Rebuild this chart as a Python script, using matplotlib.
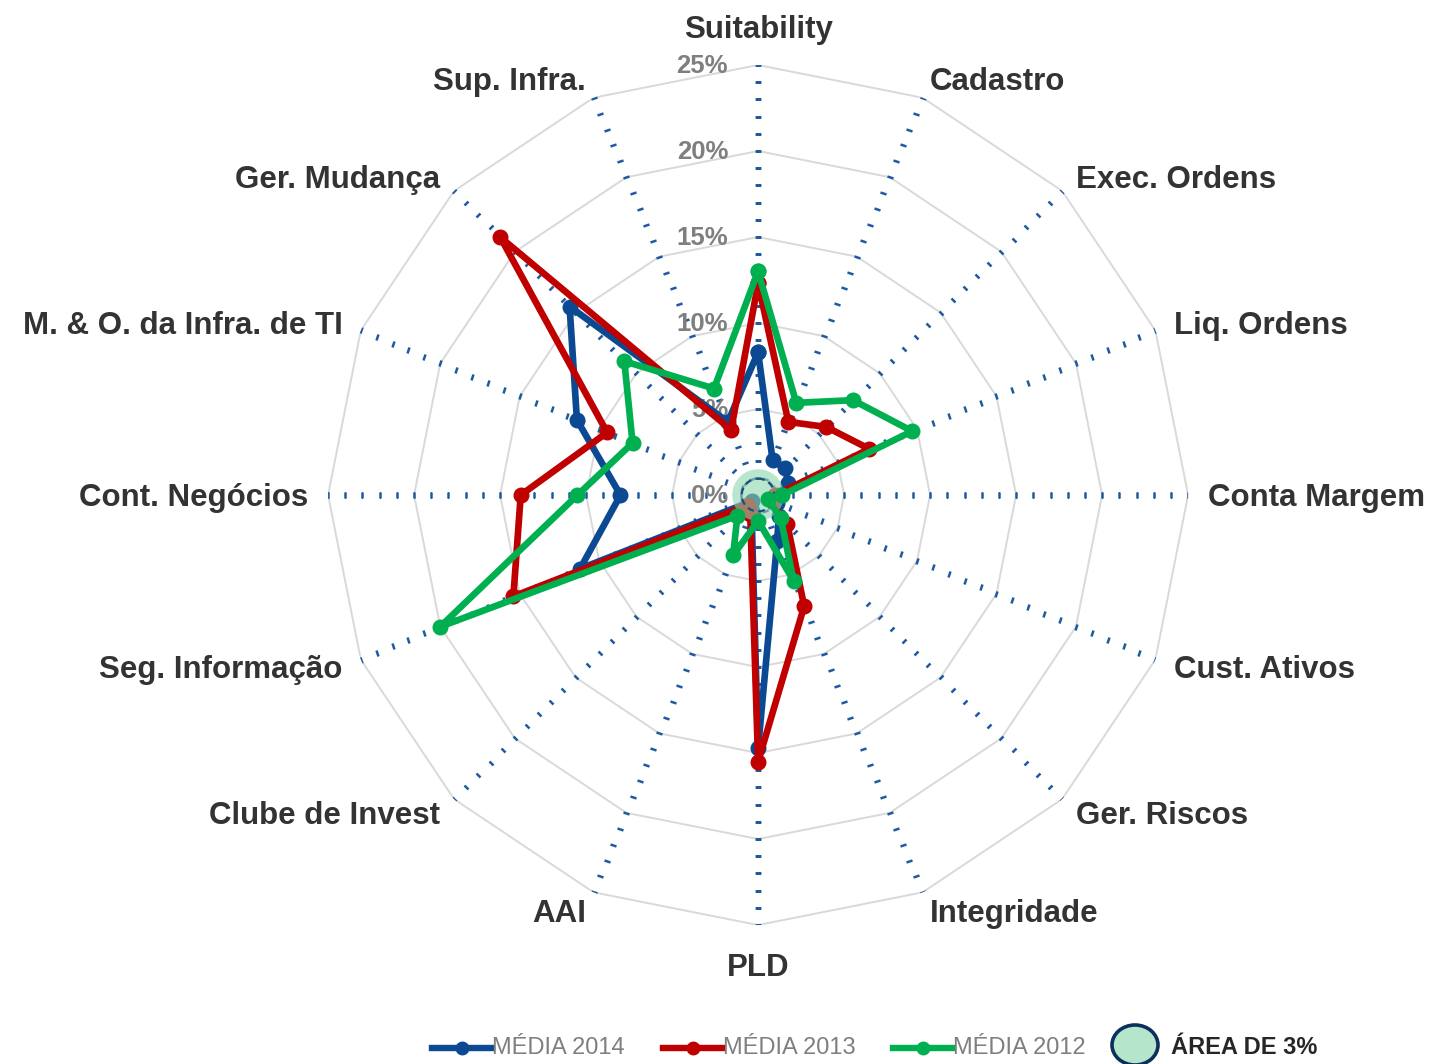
import numpy as np
import matplotlib
matplotlib.use("Agg")
import matplotlib.pyplot as plt
from matplotlib import font_manager
from matplotlib.lines import Line2D
from matplotlib.patches import Ellipse
from matplotlib.markers import MarkerStyle
from matplotlib.transforms import Affine2D, offset_copy

# ── Data ──────────────────────────────────────────────────────
categories = ["Suitability", "Cadastro", "Exec. Ordens", "Liq. Ordens",
              "Conta Margem", "Cust. Ativos", "Ger. Riscos", "Integridade",
              "PLD", "AAI", "Clube de Invest", "Seg. Informação",
              "Cont. Negócios", "M. & O. da Infra. de TI", "Ger. Mudança",
              "Sup. Infra."]

media_2014 = [8.3, 2.2, 2.2, 1.9, 1.2, 1.2, 1.7, 2.9, 14.7, 1.0, 0.5, 11.2, 8.0, 11.4, 15.5, 4.6]
media_2013 = [12.3, 4.6, 5.6, 7.0, 1.0, 0.8, 2.4, 7.0, 15.5, 1.2, 0.8, 15.4, 13.8, 9.5, 21.2, 4.1]
media_2012 = [13.0, 5.8, 7.8, 9.7, 1.4, 0.6, 1.85, 5.4, 1.5, 3.8, 1.7, 20.0, 10.5, 7.9, 11.0, 6.7]

series_names = ["MÉDIA 2014", "MÉDIA 2013", "MÉDIA 2012"]
ring_levels = [0, 5, 10, 15, 20, 25]
area_label = "ÁREA DE 3%"
area_radius = 1.5          # circle with 3% diameter

# ── Style ─────────────────────────────────────────────────────
BLUE, RED, GREEN = "#0b4a92", "#c00000", "#00b050"
GRID = "#d9d9d9"
SPOKE = "#1f5aa0"
LABEL = "#333333"
W, H = 1432, 1064

names = {f.name for f in font_manager.fontManager.ttflist}
NARROW = "Liberation Sans Narrow" if "Liberation Sans Narrow" in names else "Liberation Sans"
plt.rcParams["font.family"] = ["Liberation Sans", "DejaVu Sans"]

fig = plt.figure(figsize=(W / 100, H / 100), dpi=100)
ax = fig.add_axes([0.2291, 0.1306, 0.6006, 0.8083], projection="polar")
ax.set_theta_zero_location("N")
ax.set_theta_direction(-1)
ax.set_ylim(0, 25)
ax.grid(False)
ax.set_xticks([])
ax.set_yticks([])
ax.spines["polar"].set_visible(False)
ax.patch.set_alpha(0)

n = len(categories)
theta = np.deg2rad(np.arange(n) * 360.0 / n)
closed = np.append(theta, theta[0])

# polygon grid rings
for lvl in ring_levels[1:]:
    ax.plot(closed, np.full(n + 1, lvl), color=GRID, lw=1.4, zorder=1)

# spokes drawn as perpendicular dash ticks every 1%
tick_r = np.arange(1, 26)
for t in theta:
    m = MarkerStyle("_", transform=Affine2D().rotate_deg(-np.rad2deg(t)))
    ax.plot(np.full(len(tick_r), t), tick_r, ls="none", marker=m,
            markersize=4.5, markeredgewidth=1.8, color=SPOKE, zorder=1.5)

# radial labels along the Suitability spoke
lab_tr = offset_copy(ax.transData, fig=fig, x=-30, y=-1, units="dots")
for lvl in ring_levels:
    ax.text(0, lvl, f"{lvl}%", transform=lab_tr, ha="right", va="center",
            fontsize=18.5, fontweight="bold", color="#7f7f7f", zorder=2)

# category labels
side_tr = offset_copy(ax.transData, fig=fig, x=0, y=-3, units="dots")
bottom_tr = offset_copy(ax.transData, fig=fig, x=0, y=-8, units="dots")
for t, name in zip(theta, categories):
    deg = np.rad2deg(t) % 360
    tr = side_tr
    if np.isclose(deg, 0):
        ha, va, tr = "center", "bottom", ax.transData
    elif np.isclose(deg, 180):
        ha, va, tr = "center", "top", bottom_tr
    elif deg < 180:
        ha, va = "left", "center"
    else:
        ha, va = "right", "center"
    ax.text(t, 26.15, name, ha=ha, va=va, fontsize=22.5, transform=tr,
            fontweight="bold", color=LABEL)

# series
def draw(vals, color, z):
    ax.plot(closed, np.append(vals, vals[0]), color=color, lw=4.8,
            marker="o", markersize=10.5, solid_joinstyle="round", zorder=z)

draw(media_2014, BLUE, 3)
draw(media_2013, RED, 4)

# 3% area circle
circ = np.linspace(0, 2 * np.pi, 200)
ax.fill(circ, np.full_like(circ, area_radius), color="#8fd6ae", alpha=0.6,
        lw=0, zorder=4.5)
ax.plot(circ, np.full_like(circ, 0.95), color="#1f4e79", lw=1.6,
        ls=(0, (3, 2)), zorder=4.6)

draw(media_2012, GREEN, 5)

# ── Legend (drawn in figure pixels) ───────────────────────────
def fx(x):
    return x / W

def fy(y):
    return 1 - y / H

leg_y = 1048
for x0, color, name in zip([432, 663, 893], [BLUE, RED, GREEN], series_names):
    fig.add_artist(Line2D([fx(x0), fx(x0 + 60)], [fy(leg_y), fy(leg_y)],
                          transform=fig.transFigure, color=color, lw=4.6))
    fig.add_artist(Line2D([fx(x0 + 30)], [fy(leg_y)], transform=fig.transFigure,
                          ls="none", marker="o", markersize=9, color=color))
    fig.text(fx(x0 + 60), fy(leg_y), name, ha="left", va="center",
             fontsize=17, family=NARROW, color="#7f7f7f")

fig.add_artist(Ellipse((fx(1135), fy(1045)), fx(46), 40 / H,
                       transform=fig.transFigure, facecolor="#b5e6cb",
                       edgecolor="#0d2f5c", lw=2.6))
fig.text(fx(1171), fy(leg_y), area_label, ha="left", va="center",
         fontsize=17, family=NARROW, fontweight="bold", color="#262626")

fig.savefig("out.png", dpi=100)
